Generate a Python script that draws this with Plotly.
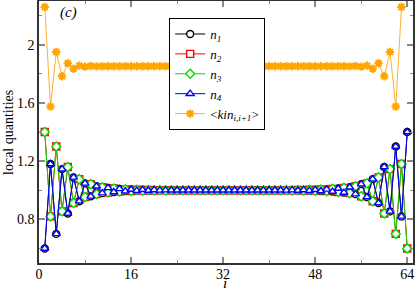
import plotly.graph_objects as go

sites = list(range(1, 65))
bonds = list(range(1, 64))

n1 = [0.600, 1.180, 0.700, 1.145, 0.840, 1.088, 0.924, 1.047, 0.958, 1.027,
      0.980, 1.016, 0.988, 1.009, 0.994, 1.005, 0.997, 1.003, 0.998, 1.002,
      0.999, 1.001,
      1.000, 1.000, 1.000, 1.000, 1.000, 1.000, 1.000, 1.000, 1.000, 1.000,
      1.000, 1.000, 1.000, 1.000, 1.000, 1.000, 1.000, 1.000, 1.000, 1.000,
      0.999, 1.001, 0.998, 1.002, 0.997, 1.003, 0.995, 1.006, 0.991, 1.012,
      0.984, 1.020, 0.973, 1.042, 0.953, 1.076, 0.912, 1.160, 0.855, 1.300,
      0.820, 1.400]

n2 = [1.400, 0.820, 1.300, 0.855, 1.160, 0.912, 1.076, 0.953, 1.042, 0.973,
      1.020, 0.984, 1.012, 0.991, 1.006, 0.995, 1.003, 0.997, 1.002, 0.998,
      1.001, 0.999,
      1.000, 1.000, 1.000, 1.000, 1.000, 1.000, 1.000, 1.000, 1.000, 1.000,
      1.000, 1.000, 1.000, 1.000, 1.000, 1.000, 1.000, 1.000, 1.000, 1.000,
      1.001, 0.999, 1.002, 0.998, 1.003, 0.997, 1.005, 0.994, 1.009, 0.988,
      1.016, 0.980, 1.027, 0.958, 1.047, 0.924, 1.088, 0.840, 1.145, 0.700,
      1.180, 0.600]

n3 = [1.400, 0.820, 1.300, 0.855, 1.160, 0.912, 1.076, 0.953, 1.042, 0.973,
      1.020, 0.984, 1.012, 0.991, 1.006, 0.995, 1.003, 0.997, 1.002, 0.998,
      1.001, 0.999,
      1.000, 1.000, 1.000, 1.000, 1.000, 1.000, 1.000, 1.000, 1.000, 1.000,
      1.000, 1.000, 1.000, 1.000, 1.000, 1.000, 1.000, 1.000, 1.000, 1.000,
      1.001, 0.999, 1.002, 0.998, 1.003, 0.997, 1.005, 0.994, 1.009, 0.988,
      1.016, 0.980, 1.027, 0.958, 1.047, 0.924, 1.088, 0.840, 1.145, 0.700,
      1.180, 0.600]

n4 = [0.600, 1.180, 0.700, 1.145, 0.840, 1.088, 0.924, 1.047, 0.958, 1.027,
      0.980, 1.016, 0.988, 1.009, 0.994, 1.005, 0.997, 1.003, 0.998, 1.002,
      0.999, 1.001,
      1.000, 1.000, 1.000, 1.000, 1.000, 1.000, 1.000, 1.000, 1.000, 1.000,
      1.000, 1.000, 1.000, 1.000, 1.000, 1.000, 1.000, 1.000, 1.000, 1.000,
      0.999, 1.001, 0.998, 1.002, 0.997, 1.003, 0.995, 1.006, 0.991, 1.012,
      0.984, 1.020, 0.973, 1.042, 0.953, 1.076, 0.912, 1.160, 0.855, 1.300,
      0.820, 1.400]

kin = [2.259, 1.575, 1.950, 1.783, 1.872, 1.835, 1.856, 1.849, 1.853, 1.851,
       1.852, 1.852, 1.852, 1.852, 1.852, 1.852, 1.852, 1.852, 1.852, 1.852,
       1.852, 1.852, 1.852, 1.852, 1.852, 1.852, 1.852, 1.852, 1.852, 1.852,
       1.852, 1.852, 1.852, 1.852, 1.852, 1.852, 1.852, 1.852, 1.852, 1.852,
       1.852, 1.852, 1.852, 1.852, 1.852, 1.852, 1.852, 1.852, 1.852, 1.852,
       1.852, 1.852, 1.852,
       1.851, 1.853, 1.849, 1.856, 1.835, 1.872, 1.783, 1.950, 1.575, 2.259]

x_ticks = [0, 16, 32, 48, 64]
y_ticks = [0.8, 1.2, 1.6, 2.0]
y_ticklabels = ["0.8", "1.2", "1.6", "2"]

FONT = "Liberation Serif"

series = [
    ("<i>n</i><sub><i>1</i></sub>", n1, "black", "circle", sites),
    ("<i>n</i><sub><i>2</i></sub>", n2, "red", "square", sites),
    ("<i>n</i><sub><i>3</i></sub>", n3, "#00dd00", "diamond", sites),
    ("<i>n</i><sub><i>4</i></sub>", n4, "blue", "triangle-up", sites),
]

fig = go.Figure()
for name, vals, col, sym, xs in series:
    fig.add_trace(go.Scatter(
        x=xs, y=vals, name=name, mode="lines+markers",
        line=dict(color=col, width=1),
        marker=dict(symbol=sym, size=7, color="white", line=dict(color=col, width=1.4)),
    ))
fig.add_trace(go.Scatter(
    x=bonds, y=kin, name="&lt;<i>kin</i><sub><i>i,i+1</i></sub>&gt;", mode="lines+markers",
    line=dict(color="#ffb030", width=1),
    marker=dict(symbol="asterisk-open", size=7, color="orange", line=dict(color="orange", width=2)),
))

fig.add_annotation(x=0.08, y=0.995, xref="paper", yref="paper", text="<i>(c)</i>",
                   showarrow=False, font=dict(family=FONT, size=15, color="black"),
                   xanchor="center", yanchor="top")
fig.add_annotation(x=32.4, y=-0.04, xref="x", yref="paper", text="<i>i</i>",
                   showarrow=False, font=dict(family=FONT, size=15, color="black"),
                   xanchor="center", yanchor="top")
fig.add_annotation(x=-0.083, y=0.5, xref="paper", yref="paper", text="local quantities",
                   showarrow=False, textangle=-90, font=dict(family=FONT, size=14, color="black"),
                   xanchor="center", yanchor="middle")

fig.update_layout(
    width=415, height=292,
    margin=dict(l=39, r=2, t=1, b=29),
    paper_bgcolor="white", plot_bgcolor="white",
    font=dict(family=FONT, size=14, color="black"),
    showlegend=True,
    legend=dict(x=0.348, y=0.935, xanchor="left", yanchor="top",
                bordercolor="black", borderwidth=1, bgcolor="white",
                font=dict(family=FONT, size=13), itemwidth=30, tracegroupgap=0),
)
fig.update_xaxes(
    range=[0, 65], tickvals=x_ticks, showline=True, linecolor="#333", linewidth=1.5,
    mirror="allticks", ticks="inside", ticklen=6, tickcolor="#888", tickwidth=1.5,
    showgrid=False, zeroline=False, automargin=False, ticklabelstandoff=-3,
    minor=dict(dtick=8, tick0=0, ticks="inside", ticklen=3, tickcolor="#888", tickwidth=1),
    tickfont=dict(family=FONT, size=14),
)
fig.update_yaxes(
    range=[0.5, 2.3], tickvals=y_ticks, ticktext=y_ticklabels, showline=True, linecolor="#333", linewidth=1.5,
    mirror="allticks", ticks="inside", ticklen=6, tickcolor="#888", tickwidth=1.5,
    showgrid=False, zeroline=False, automargin=False,
    minor=dict(dtick=0.2, tick0=0.6, ticks="inside", ticklen=3, tickcolor="#888", tickwidth=1),
    tickfont=dict(family=FONT, size=14),
)

fig.write_html("out.html", config={"displayModeBar": False},
               post_script="document.body.style.margin='0';document.body.style.padding='0';")
